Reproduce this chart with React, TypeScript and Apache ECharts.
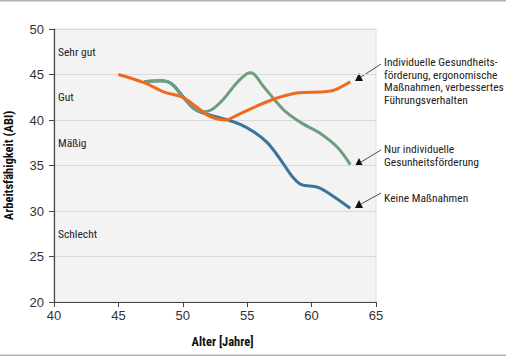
import React, { useEffect, useRef } from "react";
import * as echarts from "echarts";

const blueData: [number, number][] = [
  [47, 44.2], [48.3, 44.3], [49.1, 44.0], [50, 42.6], [50.8, 41.3], [51.5, 40.8],
  [52.5, 40.4], [53.5, 40.0], [54.5, 39.5], [55.5, 38.7], [56.5, 37.6], [57.2, 36.4],
  [57.8, 35.2], [58.5, 33.8], [59.2, 32.9], [60.5, 32.6], [61.7, 31.6], [63, 30.3],
];
const greenData: [number, number][] = [
  [47, 44.2], [48.3, 44.3], [49.1, 44.0], [50, 42.5], [50.8, 41.4], [51.5, 40.9],
  [52.2, 41.1], [53.1, 42.2], [54.2, 44.1], [55, 45.1], [55.3, 45.2], [56.2, 43.8],
  [57.2, 42.1], [58, 40.9], [59.3, 39.6], [60.6, 38.6], [62, 37.0], [63, 35.1],
];
const orangeData: [number, number][] = [
  [45, 45], [47, 44.1], [48.5, 43.1], [50, 42.5], [51, 41.5], [52.1, 40.4], [53.3, 40.0],
  [54.3, 40.6], [56, 41.7], [57.5, 42.5], [59, 43.0], [61, 43.1], [61.8, 43.3], [63, 44.2],
];
const levelLabels = ["Sehr gut", "Gut", "Mäßig", "Schlecht"];
const levelValues = [47.5, 42.5, 37.5, 27.5];
const annotationTexts = [
  "Individuelle Gesundheits-\nförderung, ergonomische\nMaßnahmen, verbessertes\nFührungsverhalten",
  "Nur individuelle\nGesunheitsförderung",
  "Keine Maßnahmen",
];

const FONT = "'Liberation Sans Narrow', 'Roboto Condensed', 'Liberation Sans', sans-serif";

export default function App() {
  const ref = useRef<HTMLDivElement>(null);
  useEffect(() => {
    if (!ref.current) return;
    const chart = echarts.init(ref.current, null, { renderer: "svg" });
    const gridTop = 29, gridBottom = 55, gridLeft = 54, gridRight = 130;
    const H = 357;
    const yPix = (v: number) => gridTop + ((50 - v) / 30) * (H - gridTop - gridBottom);

    const tri = (x: number, y: number) => ({
      type: "polygon",
      shape: { points: [[x - 4, y + 3], [x + 4, y + 3], [x, y - 5]] },
      style: { fill: "#111" },
    });
    const ann = [
      { ty: 56, lx1: 381, ly1: 64, tx: 359, tyy: 78 },
      { ty: 143, lx1: 381, ly1: 150, tx: 359, tyy: 163 },
      { ty: 192, lx1: 381, ly1: 193, tx: 359, tyy: 205 },
    ];
    const graphics: any[] = [
      { type: "rect", shape: { x: 0, y: 0, width: 506, height: 1.5 }, style: { fill: "#b4b4ac" } },
      { type: "rect", shape: { x: 0, y: 354.5, width: 506, height: 1.5 }, style: { fill: "#b4b4ac" } },
    ];
    levelLabels.forEach((t, i) => {
      graphics.push({
        type: "text",
        x: 58,
        y: yPix(levelValues[i]),
        style: { text: t, fontFamily: FONT, fontSize: 11.5, fill: "#222", verticalAlign: "middle" },
        z: 10,
      });
    });
    ann.forEach((a, i) => {
      graphics.push({
        type: "line",
        shape: { x1: a.lx1, y1: a.ly1, x2: a.tx + 2, y2: a.tyy - 1 },
        style: { stroke: "#222", lineWidth: 0.8 },
      });
      graphics.push(tri(a.tx, a.tyy));
      graphics.push({
        type: "text",
        x: 384,
        y: a.ty,
        style: {
          text: annotationTexts[i],
          fontFamily: FONT,
          fontSize: 11.5,
          lineHeight: 12.5,
          fill: "#222",
          verticalAlign: "top",
        },
      });
    });

    const lineSeries = (name: string, data: [number, number][], color: string) => ({
      type: "line",
      name,
      data,
      smooth: 0.35,
      showSymbol: false,
      symbol: "none",
      lineStyle: { color, width: 3 },
      itemStyle: { color },
    });

    chart.setOption({
      animation: false,
      grid: {
        left: gridLeft, right: gridRight, top: gridTop, bottom: gridBottom,
        containLabel: false, outerBoundsMode: "none",
        show: true, backgroundColor: "#f3f3f3", borderColor: "#dcdcdc", borderWidth: 1,
      },
      xAxis: {
        type: "value", min: 40, max: 65, interval: 5,
        name: "Alter [Jahre]", nameLocation: "middle", nameGap: 33,
        nameTextStyle: { fontFamily: FONT, fontWeight: "bold", fontSize: 12.5, color: "#111", padding: [0, 0, 0, 15] },
        axisLine: { lineStyle: { color: "#444", width: 1.2 } },
        axisTick: { show: true, length: 5, lineStyle: { color: "#444" } },
        axisLabel: { fontFamily: "'Liberation Sans', Arial, sans-serif", fontSize: 13, color: "#333", margin: 7 },
        splitLine: { show: false },
      },
      yAxis: {
        type: "value", min: 20, max: 50, interval: 5,
        name: "Arbeitsfähigkeit (ABI)", nameLocation: "middle", nameGap: 39,
        nameTextStyle: { fontFamily: FONT, fontWeight: "bold", fontSize: 12.5, color: "#111" },
        axisLine: { show: true, lineStyle: { color: "#444", width: 1.2 } },
        axisTick: { show: true, length: 5, lineStyle: { color: "#444" } },
        axisLabel: { fontFamily: "'Liberation Sans', Arial, sans-serif", fontSize: 13, color: "#333", margin: 10 },
        splitLine: { show: true, lineStyle: { color: "#dadada", width: 1.2 } },
      },
      graphic: graphics,
      series: [
        lineSeries("Keine Maßnahmen", blueData, "#3c739b"),
        lineSeries("Nur individuelle Gesunheitsförderung", greenData, "#6c9f7e"),
        lineSeries("Individuelle Gesundheitsförderung, ergonomische Maßnahmen, verbessertes Führungsverhalten", orangeData, "#f06a1e"),
      ],
    });
    return () => chart.dispose();
  }, []);
  return (
    <div
      ref={ref}
      style={{ position: "fixed", left: 0, top: 0, width: 506, height: 357, background: "#fff" }}
    />
  );
}
